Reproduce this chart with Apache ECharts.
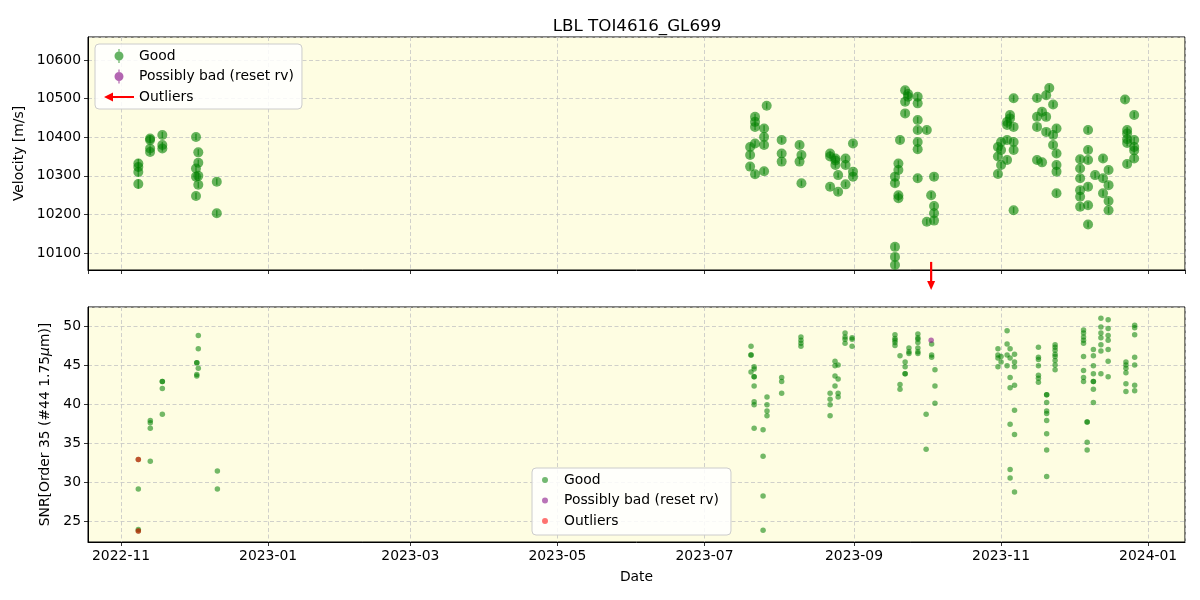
<!DOCTYPE html>
<html><head><meta charset="utf-8">
<script src="https://cdn.jsdelivr.net/npm/echarts@6/dist/echarts.min.js"></script>
<style>html,body{margin:0;padding:0;background:#fff}#c{width:1200px;height:600px}</style>
</head><body><div id="c"></div><script>
// ---------- DATA ----------
const chartTitle = 'LBL TOI4616_GL699';
const xMin = '2022-10-18 07:00';
const xMax = '2024-01-16 07:00';
const rvMin = 10056, rvMax = 10660;
const snrMin = 22.3, snrMax = 52.45;

// Velocity (top panel): one date per group, several values per group
const rvDates = [
  '2022-11-08 04:00','2022-11-13 01:00','2022-11-18 03:00','2022-12-02 02:00','2022-12-03 01:00','2022-12-10 17:00',
  '2023-07-19 22:00','2023-07-21 23:00','2023-07-25 17:00','2023-07-26 19:00','2023-08-02 00:00','2023-08-09 10:00',
  '2023-08-10 05:00','2023-08-22 02:00','2023-08-24 07:00','2023-08-25 10:00','2023-08-28 12:00','2023-08-31 14:00',
  '2023-09-18 00:00','2023-09-19 10:00','2023-09-20 02:00','2023-09-22 05:00','2023-09-23 10:00','2023-09-27 10:00',
  '2023-10-01 05:00','2023-10-03 00:00','2023-10-04 05:00','2023-10-30 17:00','2023-11-01 00:00','2023-11-03 12:00',
  '2023-11-04 17:00','2023-11-06 05:00','2023-11-15 22:00','2023-11-18 00:00','2023-11-19 17:00','2023-11-21 00:00',
  '2023-11-22 14:00','2023-11-24 00:00','2023-12-03 19:00','2023-12-07 02:00','2023-12-10 00:00','2023-12-13 07:00',
  '2023-12-15 14:00','2023-12-22 10:00','2023-12-23 07:00','2023-12-26 05:00'
];
const rvValues = [
  [10332,10323,10310,10279],[10397,10393,10371,10362],[10406,10380,10371],[10401,10319,10298,10248],[10361,10334,10277,10300],[10285,10203],
  [10375,10354,10324],[10453,10427,10384,10304,10440],[10423,10401,10380,10312],[10482],[10393,10358,10337],[10380,10337],
  [10354,10281],[10358,10272,10350],[10345,10328,10340],[10302,10259],[10345,10328,10278],[10384,10311,10298],
  [10116,10090,10069,10298,10281],[10332,10315,10250,10242],[10393],[10522,10492,10462],[10505,10512],[10505,10488,10445,10419,10388,10369,10294],
  [10419,10181],[10250],[10298,10222,10203,10184],[10375,10350,10305],[10388,10328,10367],[10440,10432,10393,10341],
  [10458,10449],[10501,10427,10388,10367,10211],[10502,10453,10427,10341],[10466,10335],[10509,10414,10453],[10528],
  [10485,10406,10380],[10423,10358,10328,10311,10255],[10343,10319,10294,10263,10246,10220],[10367,10341,10419,10272,10224,10174],[10302],[10345,10294,10255],
  [10315,10276,10235,10211],[10498],[10419,10410,10395,10385,10331],[10458,10393,10375,10366,10345]
];
const rvErrors = [
  12,8,8,8,8,8,
  8,8,8,8,7,7,
  7,7,7,7,7,7,
  9,8,8,8,8,8,
  8,8,8,8,8,8,
  8,8,8,8,8,8,
  8,8,8,8,8,8,
  8,8,8,8
];

// SNR (bottom panel)
const snrDates = [
  '2022-11-08 04:00','2022-11-13 03:00','2022-11-18 03:00','2022-12-02 10:00','2022-12-03 01:00','2022-12-10 23:00',
  '2023-07-20 07:00','2023-07-21 14:00','2023-07-25 07:00','2023-07-26 22:00','2023-08-02 00:00','2023-08-10 00:00',
  '2023-08-22 02:00','2023-08-24 03:00','2023-08-25 10:00','2023-08-28 07:00','2023-08-31 05:00','2023-09-18 00:00',
  '2023-09-20 02:00','2023-09-22 05:00','2023-09-23 19:00','2023-09-27 12:00','2023-09-30 22:00','2023-10-03 05:00',
  '2023-10-04 14:00','2023-10-30 17:00','2023-11-01 00:00','2023-11-03 12:00','2023-11-04 18:00','2023-11-06 14:00',
  '2023-11-16 12:00','2023-11-19 22:00','2023-11-23 10:00','2023-12-05 05:00','2023-12-06 17:00','2023-12-09 07:00',
  '2023-12-12 10:00','2023-12-15 10:00','2023-12-22 19:00','2023-12-26 10:00'
];
const snrValues = [
  [32.9,29.1,23.9,23.7],[37.9,37.6,36.9,32.65],[42.9,42.9,42.0,38.7],[45.3,45.3,43.8,43.6],[48.8,47.1,44.6],[31.4,29.1],
  [47.4,46.3,46.3,44.1],[44.8,44.5,43.5,43.5,42.3,40.3,39.9,36.9],[36.7,33.3,28.2,23.8],[40.9,39.9,39.1,38.5],[43.4,42.9,41.4],[48.6,48.2,47.8,47.4],
  [41.4,40.6,39.9,38.5],[45.5,44.9,43.6,42.3],[45.0,43.2,41.4,40.9],[49.1,48.6,48.3,47.8],[48.5,48.3,47.4],[48.9,48.4,48.2,47.9,47.5],
  [46.2,42.5,41.9],[45.4,44.8,43.9,43.9],[47.2,46.7,46.5],[49.0,48.5,48.3,47.9,47.2,46.7,46.5],[38.7,34.2],[47.7,46.3,46.0],
  [44.4,42.3,40.1],[47.1,46.3,45.9,44.8],[46.1,45.4],[49.4,47.7,46.3,44.9],[47.1,45.9,43.4,42.1,37.4,31.6,30.5],[46.4,45.4,44.8,42.4,39.2,36.1,28.7],
  [47.3,46.0,45.7,44.9,43.7,43.3,42.8],[41.2,41.2,40.2,39.1,38.8,37.9,36.2,34.1,30.7],[47.6,47.3,46.9,46.4,46.1,45.6,45.0,44.4],[49.5,49.1,48.6,48.2,47.8,46.1,44.3,43.4,42.9],[37.7,37.7,35.1,34.1],[47.0,46.2,44.9,43.9,42.9,42.9,41.9,40.2],
  [51.0,49.9,49.1,48.5,47.6,46.8,43.9],[50.8,49.7,48.8,48.2,47.0,45.5,43.5],[45.4,45.0,44.6,44.0,42.6,41.6],[50.1,49.8,48.9,46.0,45.0,42.4,41.7]
];
const badSnrDates = ['2023-10-03 00:00'];
const badSnrValues = [48.2];
const outlierSnrDates = ['2022-11-08 04:00','2022-11-08 04:00'];
const outlierSnrValues = [32.9, 23.7];

// Outlier arrow (velocity below plotted range)
const arrowDate = '2023-10-03 00:00';
const arrowFrom = 10077;
const arrowTo = 10004;

const legendNames = ['Good', 'Possibly bad (reset rv)', 'Outliers'];
const xLabel = 'Date';
const rvLabel = 'Velocity [m/s]';
const snrLabel = 'SNR[Order 35 (#44 1.75{i|μ}m)]';

// ---------- BUILD ----------
const FONT = 'DejaVu Sans';
const FS = 13.9;
const toTs = s => new Date(s.replace(' ', 'T')).getTime();

const rvPts = [], rvBars = [];
rvDates.forEach((d, i) => {
  rvValues[i].forEach(v => {
    rvPts.push([toTs(d), v]);
    rvBars.push([toTs(d), v - rvErrors[i], v + rvErrors[i]]);
  });
});
const snrPts = [];
snrDates.forEach((d, i) => snrValues[i].forEach(v => snrPts.push([toTs(d), v])));
const badPts = badSnrDates.map((d, i) => [toTs(d), badSnrValues[i]]);
const outPts = outlierSnrDates.map((d, i) => [toTs(d), outlierSnrValues[i]]);

const gridLine = { show: true, lineStyle: { color: '#c4c4c4', type: [4, 2.5], width: 0.8 } };
const tick = { show: true, inside: false, length: 4, lineStyle: { color: '#000', width: 0.8 } };
const axLine = { show: true, onZero: false, lineStyle: { color: '#000', width: 1 } };
const fmtDate = v => { const d = new Date(v); return d.getFullYear() + '-' + String(d.getMonth() + 1).padStart(2, '0'); };
const fmtNum = v => String(v);

const xCommon = (idx, showLabels) => ({
  type: 'time', gridIndex: idx, min: toTs(xMin), max: toTs(xMax), splitNumber: 7,
  axisLine: axLine, axisTick: tick, splitLine: gridLine, minorTick: { show: false },
  axisLabel: { show: showLabels, formatter: fmtDate, color: '#000', fontSize: FS, fontFamily: FONT, margin: 7, hideOverlap: false },
  name: showLabels ? xLabel : '', nameLocation: 'middle', nameGap: 28,
  nameTextStyle: { color: '#000', fontSize: FS, fontFamily: FONT }
});

const goodIcon = 'path://M4.4,0H5.6V14H4.4Z M9.5,7A4.5,4.5 0 1,1 0.5,7A4.5,4.5 0 1,1 9.5,7Z';
const arrowIcon = 'path://M0,5L9,0.5L9,4L30,4L30,6L9,6L9,9.5Z';

const legendBase = {
  orient: 'vertical', itemGap: 6.5, selectedMode: false,
  backgroundColor: 'rgba(255,255,255,0.85)', borderColor: '#cccccc', borderWidth: 1, borderRadius: 4,
  textStyle: { color: '#000', fontSize: FS, fontFamily: FONT, lineHeight: 14 }
};

const chart = echarts.init(document.getElementById('c'), null, { renderer: 'canvas' });
chart.setOption({
  animation: false,
  backgroundColor: '#ffffff',
  textStyle: { fontFamily: FONT },
  title: { text: chartTitle, left: 632, textAlign: 'center', top: 13,
    textStyle: { color: '#000', fontSize: 16.7, fontWeight: 'normal', fontFamily: FONT } },
  grid: [
    { left: 88, top: 37, width: 1097, height: 233, show: true, backgroundColor: '#fefde2', borderColor: '#000', borderWidth: 1 },
    { left: 88, top: 307, width: 1097, height: 235, show: true, backgroundColor: '#fefde2', borderColor: '#000', borderWidth: 1 }
  ],
  xAxis: [xCommon(0, false), xCommon(1, true)],
  yAxis: [
    { type: 'value', gridIndex: 0, min: rvMin, max: rvMax, scale: true,
      axisLine: axLine, axisTick: tick, splitLine: gridLine,
      axisLabel: { color: '#000', fontSize: FS, fontFamily: FONT, margin: 7, showMinLabel: false, showMaxLabel: false, formatter: fmtNum },
      name: rvLabel, nameLocation: 'middle', nameGap: 53, nameRotate: 90,
      nameTextStyle: { color: '#000', fontSize: FS, fontFamily: FONT } },
    { type: 'value', gridIndex: 1, min: snrMin, max: snrMax, scale: true,
      axisLine: axLine, axisTick: tick, splitLine: gridLine,
      axisLabel: { color: '#000', fontSize: FS, fontFamily: FONT, margin: 7, showMinLabel: false, showMaxLabel: false, formatter: fmtNum },
      name: snrLabel, nameLocation: 'middle', nameGap: 36, nameRotate: 90,
      nameTextStyle: { color: '#000', fontSize: FS, fontFamily: FONT,
        rich: { i: { fontStyle: 'italic', fontSize: FS, fontFamily: FONT, color: '#000' } } } }
  ],
  legend: [
    Object.assign({}, legendBase, {
      left: 95, top: 44, padding: [5, 8, 5, 9], itemWidth: 30, itemHeight: 14,
      data: [
        { name: legendNames[0], icon: goodIcon, itemStyle: { color: 'green', opacity: 0.6 } },
        { name: legendNames[1], icon: goodIcon, itemStyle: { color: 'purple', opacity: 0.6 } },
        { name: legendNames[2], icon: arrowIcon, itemStyle: { color: 'red', opacity: 1 } }
      ]
    }),
    Object.assign({}, legendBase, {
      left: 532, top: 468, padding: [5, 12, 7, 10], itemWidth: 28, itemHeight: 6,
      data: [
        { name: legendNames[0], icon: 'circle', itemStyle: { color: 'green', opacity: 0.55 } },
        { name: legendNames[1], icon: 'circle', itemStyle: { color: 'purple', opacity: 0.55 } },
        { name: legendNames[2], icon: 'circle', itemStyle: { color: 'red', opacity: 0.55 } }
      ]
    })
  ],
  series: [
    { type: 'custom', name: legendNames[0], xAxisIndex: 0, yAxisIndex: 0, data: rvBars,
      encode: { x: 0, y: [1, 2] },
      renderItem: (params, api) => {
        const p1 = api.coord([api.value(0), api.value(1)]);
        const p2 = api.coord([api.value(0), api.value(2)]);
        return { type: 'line', shape: { x1: p1[0], y1: p1[1], x2: p2[0], y2: p2[1] },
          style: { stroke: 'green', lineWidth: 1.5, opacity: 0.6 } };
      } },
    { type: 'scatter', name: legendNames[0], xAxisIndex: 0, yAxisIndex: 0, data: rvPts,
      symbol: 'circle', symbolSize: 10, itemStyle: { color: 'green', opacity: 0.6 } },
    { type: 'scatter', name: legendNames[1], xAxisIndex: 0, yAxisIndex: 0, data: [],
      symbol: 'circle', symbolSize: 10, itemStyle: { color: 'purple', opacity: 0.6 } },
    { type: 'scatter', name: legendNames[0], xAxisIndex: 1, yAxisIndex: 1, data: snrPts,
      symbol: 'circle', symbolSize: 5.5, itemStyle: { color: 'green', opacity: 0.55 } },
    { type: 'scatter', name: legendNames[1], xAxisIndex: 1, yAxisIndex: 1, data: badPts,
      symbol: 'circle', symbolSize: 5.5, itemStyle: { color: 'purple', opacity: 0.55 } },
    { type: 'scatter', name: legendNames[2], xAxisIndex: 1, yAxisIndex: 1, data: outPts,
      symbol: 'circle', symbolSize: 5.5, itemStyle: { color: 'red', opacity: 0.55 } }
  ]
});

// Outlier arrow placed through the library's coordinate conversion
const a1 = chart.convertToPixel({ xAxisIndex: 0, yAxisIndex: 0 }, [toTs(arrowDate), arrowFrom]);
const a2 = chart.convertToPixel({ xAxisIndex: 0, yAxisIndex: 0 }, [toTs(arrowDate), arrowTo]);
const headLen = 9, headHalf = 4;
chart.setOption({
  graphic: [
    { type: 'line', z: 100, shape: { x1: a1[0], y1: a1[1], x2: a2[0], y2: a2[1] - headLen + 1 },
      style: { stroke: 'red', lineWidth: 2.2 } },
    { type: 'polygon', z: 100, shape: { points: [[a2[0] - headHalf, a2[1] - headLen], [a2[0] + headHalf, a2[1] - headLen], [a2[0], a2[1]]] },
      style: { fill: 'red' } }
  ]
});
</script></body></html>
